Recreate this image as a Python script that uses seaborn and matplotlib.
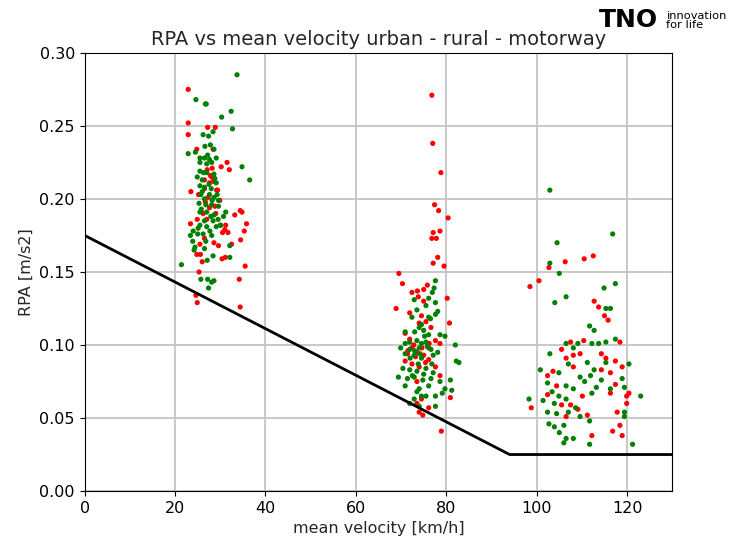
import pandas as pd
import seaborn as sns
import matplotlib.pyplot as plt

# urban cluster
urban_red_v = [22.9, 22.9, 22.9, 27.2, 28.9, 24.8, 28.4, 31.5, 30.2, 32.0, 23.5, 27.1, 28.2,
               25.2, 29.2, 29.9, 34.4, 34.8, 33.2, 35.8, 35.3, 23.4, 24.9, 26.2, 27.6, 28.8,
               30.0, 31.2, 30.5, 31.7, 25.5, 28.6, 29.6, 26.5, 24.8, 25.6, 26.0, 30.4, 31.1,
               34.5, 35.5, 34.2, 25.3, 24.6, 24.9, 34.4, 26.5, 27.6, 28.1, 26.5, 27.3, 29.4,
               27.8, 28.5, 26.7, 29.0, 27.0, 31.0, 32.5]
urban_red_r = [0.275, 0.252, 0.244, 0.249, 0.249, 0.234, 0.234, 0.225, 0.222, 0.220, 0.205, 0.220, 0.221,
               0.203, 0.206, 0.199, 0.192, 0.191, 0.189, 0.183, 0.178, 0.183, 0.186, 0.190, 0.194, 0.195,
               0.182, 0.182, 0.177, 0.177, 0.169, 0.170, 0.168, 0.173, 0.162, 0.162, 0.157, 0.159, 0.160,
               0.172, 0.154, 0.145, 0.150, 0.134, 0.129, 0.126, 0.213, 0.211, 0.215, 0.207, 0.201, 0.206,
               0.216, 0.212, 0.198, 0.190, 0.186, 0.179, 0.169]
urban_green_v = [33.7, 24.6, 26.7, 26.9, 32.4, 30.3, 32.7, 28.4, 26.2, 27.4, 22.9, 24.5, 26.6, 27.8,
                 28.6, 25.5, 26.5, 27.6, 29.1, 25.5, 27.0, 28.1, 34.8, 36.5, 25.5, 24.9, 26.0, 27.0,
                 28.6, 25.5, 26.5, 28.0, 29.1, 25.7, 27.6, 28.6, 26.5, 25.3, 28.1, 29.6, 25.5, 27.0,
                 28.6, 31.2, 30.7, 26.5, 28.4, 25.5, 27.0, 29.1, 30.1, 23.4, 23.9, 24.4, 24.2, 26.2,
                 28.1, 32.1, 26.5, 28.4, 32.1, 21.4, 25.7, 27.2, 28.1, 28.6, 27.4, 27.1, 25.1, 29.6,
                 26.0, 27.5, 28.8, 26.8, 27.9, 25.8, 29.3, 26.3, 27.2, 28.2, 25.0, 26.8, 24.0, 29.5, 27.7]
urban_green_r = [0.285, 0.268, 0.265, 0.265, 0.260, 0.256, 0.248, 0.246, 0.244, 0.243, 0.231, 0.232, 0.236, 0.237,
                 0.234, 0.228, 0.228, 0.227, 0.228, 0.225, 0.224, 0.225, 0.222, 0.213, 0.219, 0.215, 0.213, 0.218,
                 0.217, 0.209, 0.208, 0.207, 0.211, 0.203, 0.203, 0.201, 0.200, 0.197, 0.196, 0.195, 0.191, 0.191,
                 0.189, 0.191, 0.188, 0.185, 0.185, 0.182, 0.181, 0.181, 0.182, 0.175, 0.171, 0.167, 0.165, 0.176,
                 0.175, 0.168, 0.166, 0.161, 0.160, 0.155, 0.145, 0.145, 0.143, 0.144, 0.139, 0.158, 0.180, 0.199,
                 0.205, 0.210, 0.214, 0.196, 0.188, 0.193, 0.203, 0.218, 0.230, 0.199, 0.176, 0.171, 0.178, 0.186, 0.178]

# rural cluster
rural_red_v = [76.8, 77.0, 78.8, 77.4, 78.3, 80.4, 77.1, 78.6, 76.8, 77.8, 78.1, 77.1, 79.5, 69.5,
               70.3, 68.9, 80.2, 80.7, 80.9, 78.9, 72.4, 73.6, 75.0, 75.8, 73.8, 75.0, 71.9, 74.5,
               74.0, 75.5, 76.6, 70.9, 71.9, 77.6, 76.1, 71.4, 73.5, 75.0, 70.9, 72.4, 74.0, 76.1,
               77.6, 78.6, 73.5, 74.5, 76.1, 74.0, 74.8, 73.5, 72.4, 78.6,
               72.8, 74.6, 76.2, 73.2, 71.5, 75.4]
rural_red_r = [0.271, 0.238, 0.218, 0.196, 0.192, 0.187, 0.177, 0.178, 0.173, 0.173, 0.160, 0.156, 0.154, 0.149,
               0.142, 0.125, 0.132, 0.115, 0.064, 0.041, 0.136, 0.137, 0.138, 0.141, 0.133, 0.130, 0.122, 0.120,
               0.115, 0.116, 0.112, 0.108, 0.104, 0.103, 0.098, 0.094, 0.095, 0.093, 0.089, 0.087, 0.085, 0.090,
               0.085, 0.079, 0.075, 0.063, 0.057, 0.054, 0.052, 0.060, 0.098, 0.101,
               0.100, 0.098, 0.101, 0.092, 0.096, 0.088]
rural_green_v = [77.6, 77.3, 76.9, 76.1, 72.9, 75.5, 77.6, 78.1, 77.6, 73.5, 72.4, 76.1, 74.0, 73.0,
                 75.0, 76.1, 78.6, 79.7, 82.0, 70.9, 70.9, 71.9, 73.5, 74.5, 75.5, 69.9, 71.9, 74.0,
                 76.6, 78.1, 70.9, 72.9, 74.5, 77.1, 82.2, 82.8, 70.4, 71.9, 73.5, 75.5, 77.1, 69.4,
                 71.4, 72.9, 74.8, 76.6, 78.6, 80.9, 70.9, 74.0, 76.1, 79.7, 81.2, 73.5, 77.6, 79.1,
                 72.9, 74.5, 71.9, 74.0, 77.6, 75.5,
                 73.0, 74.2, 75.8, 72.0, 76.8, 73.8, 75.2, 74.5, 76.5, 72.5, 75.0]
rural_green_r = [0.144, 0.139, 0.136, 0.132, 0.131, 0.127, 0.129, 0.123, 0.121, 0.124, 0.119, 0.119, 0.112, 0.109,
                 0.110, 0.107, 0.107, 0.106, 0.100, 0.109, 0.101, 0.102, 0.103, 0.101, 0.102, 0.098, 0.097, 0.098,
                 0.097, 0.095, 0.094, 0.093, 0.091, 0.093, 0.089, 0.088, 0.084, 0.083, 0.082, 0.084, 0.081, 0.078,
                 0.077, 0.078, 0.076, 0.077, 0.075, 0.076, 0.072, 0.070, 0.072, 0.070, 0.069, 0.068, 0.065, 0.067,
                 0.063, 0.065, 0.060, 0.058, 0.058, 0.065,
                 0.096, 0.094, 0.099, 0.091, 0.087, 0.087, 0.106, 0.114, 0.118, 0.079, 0.080]

# motorway cluster
motor_red_v = [98.5, 100.5, 106.3, 110.5, 112.5, 102.7, 98.8, 112.7, 113.7, 115.0, 115.8, 107.5, 110.4,
               118.4, 105.5, 106.5, 108.1, 109.6, 114.3, 115.3, 117.4, 118.9, 102.4, 103.6, 108.1, 114.3,
               116.3, 104.4, 102.4, 110.1, 117.4, 119.9, 116.3, 106.5, 107.5, 109.1, 111.2, 112.2, 116.8,
               118.4, 118.9, 119.9, 117.8, 105.5, 120.4]
motor_red_r = [0.140, 0.144, 0.157, 0.159, 0.161, 0.153, 0.057, 0.130, 0.126, 0.120, 0.117, 0.102, 0.103,
               0.102, 0.097, 0.091, 0.093, 0.094, 0.094, 0.091, 0.089, 0.085, 0.079, 0.082, 0.085, 0.083,
               0.081, 0.072, 0.066, 0.065, 0.073, 0.065, 0.067, 0.051, 0.059, 0.056, 0.052, 0.038, 0.041,
               0.045, 0.038, 0.060, 0.054, 0.059, 0.067]
motor_green_v = [102.9, 104.5, 116.8, 102.9, 105.0, 106.5, 104.0, 114.9, 117.4, 111.7, 112.7, 115.3, 116.3,
                 112.2, 113.7, 115.3, 117.4, 109.1, 106.5, 102.9, 107.0, 111.2, 112.7, 115.3, 120.4, 100.8,
                 104.9, 109.6, 111.9, 114.3, 118.9, 102.4, 106.5, 110.6, 113.2, 116.3, 119.4, 103.4, 104.9,
                 108.1, 112.2, 123.0, 98.3, 101.4, 103.9, 106.5, 108.6, 102.4, 104.4, 107.0, 109.6, 111.7,
                 102.7, 103.9, 106.0, 105.0, 106.5, 106.0, 108.1, 111.7, 121.2, 119.4, 119.4, 108.1]
motor_green_r = [0.206, 0.170, 0.176, 0.156, 0.149, 0.133, 0.129, 0.139, 0.142, 0.113, 0.110, 0.125, 0.125,
                 0.101, 0.101, 0.102, 0.104, 0.101, 0.101, 0.094, 0.087, 0.088, 0.083, 0.088, 0.087, 0.083,
                 0.081, 0.078, 0.079, 0.076, 0.077, 0.074, 0.072, 0.075, 0.071, 0.070, 0.071, 0.068, 0.065,
                 0.070, 0.067, 0.065, 0.063, 0.062, 0.060, 0.063, 0.057, 0.054, 0.053, 0.054, 0.051, 0.048,
                 0.046, 0.044, 0.045, 0.040, 0.036, 0.033, 0.036, 0.032, 0.032, 0.054, 0.051, 0.098]

# limit line
limit_v = [0, 94, 130]
limit_r = [0.175, 0.025, 0.025]

red_v = urban_red_v + rural_red_v + motor_red_v
red_r = urban_red_r + rural_red_r + motor_red_r
green_v = urban_green_v + rural_green_v + motor_green_v
green_r = urban_green_r + rural_green_r + motor_green_r

df = pd.DataFrame({
    "v": red_v + green_v,
    "rpa": red_r + green_r,
    "group": ["red"] * len(red_v) + ["green"] * len(green_v),
})

sns.set_style("ticks")
fig = plt.figure(figsize=(7.3, 5.45), dpi=100)
ax = fig.add_axes([0.116, 0.099, 0.805, 0.804])

sns.scatterplot(data=df, x="v", y="rpa", hue="group",
                palette={"red": "red", "green": "green"},
                s=14, linewidth=0, legend=False, ax=ax, zorder=3)
sns.lineplot(x=limit_v, y=limit_r, color="black", linewidth=2, ax=ax, zorder=4)

ax.set_xlim(0, 130)
ax.set_ylim(0, 0.30)
ax.set_xticks([0, 20, 40, 60, 80, 100, 120])
ax.set_yticks([0.00, 0.05, 0.10, 0.15, 0.20, 0.25, 0.30])
ax.set_yticklabels(["0.00", "0.05", "0.10", "0.15", "0.20", "0.25", "0.30"])
ax.grid(True, color="#c4c4c4", linewidth=1.3)
ax.set_axisbelow(True)
for sp in ax.spines.values():
    sp.set_color("black")
ax.tick_params(labelsize=11.5, colors="black", direction="out")

ax.set_title("RPA vs mean velocity urban - rural - motorway", fontsize=14)
ax.set_xlabel("mean velocity [km/h]", fontsize=11.5)
ax.set_ylabel("RPA [m/s2]", fontsize=11.5)

# TNO logo
fig.text(0.821, 0.964, "TNO", fontsize=18, fontweight="black", family="DejaVu Sans",
         ha="left", va="center", color="black")
fig.text(0.913, 0.963, "innovation\nfor life", fontsize=8.2, ha="left", va="center",
         color="black", linespacing=0.9)

fig.savefig("out.png", dpi=100)
